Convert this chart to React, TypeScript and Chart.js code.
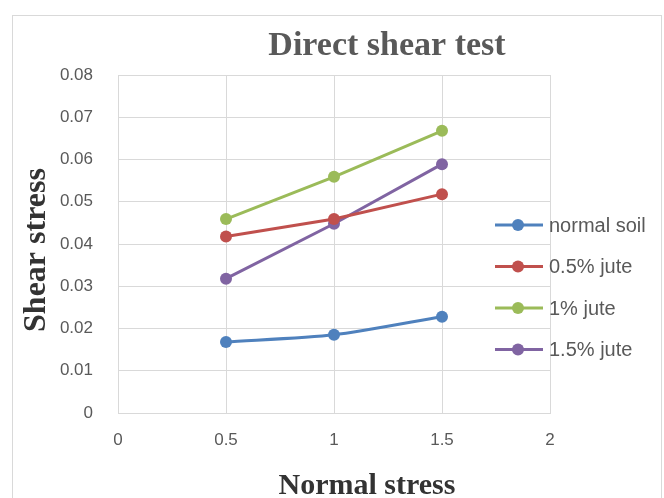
import React, { useEffect, useRef } from "react";
import { Chart, registerables } from "chart.js";

Chart.register(...registerables);

const seriesNames = ["normal soil", "0.5% jute", "1% jute", "1.5% jute"];
const normalStress = [0.5, 1, 1.5];
const normalSoil = [0.0168, 0.0185, 0.0228];
const jute05 = [0.0418, 0.0459, 0.0518];
const jute1 = [0.0459, 0.0559, 0.0668];
const jute15 = [0.0318, 0.0448, 0.0589];
const seriesColors = ["#4F81BD", "#C0504D", "#9BBB59", "#8064A2"];
const xTickLabels = ["0", "0.5", "1", "1.5", "2"];
const yTickLabels = ["0", "0.01", "0.02", "0.03", "0.04", "0.05", "0.06", "0.07", "0.08"];
const chartTitle = "Direct shear test";
const xTitle = "Normal stress";
const yTitle = "Shear stress";

const frameAndTitle = {
  id: "frameAndTitle",
  beforeDraw(chart: any) {
    const ctx = chart.ctx;
    ctx.save();
    ctx.fillStyle = "#ffffff";
    ctx.fillRect(0, 0, chart.width, chart.height);
    ctx.strokeStyle = "#d9d9d9";
    ctx.lineWidth = 1;
    ctx.strokeRect(12.5, 15.5, 649, 500);
    ctx.restore();
  },
  afterDraw(chart: any) {
    const ctx = chart.ctx;
    const area = chart.chartArea;
    ctx.save();
    // chart title
    ctx.font = "bold 34px 'Liberation Serif'";
    ctx.fillStyle = "#595959";
    ctx.textAlign = "center";
    ctx.textBaseline = "alphabetic";
    ctx.fillText(chartTitle, (area.left + chart.width - 8) / 2, 55);
    // x-axis title
    ctx.font = "bold 30px 'Liberation Serif'";
    ctx.fillStyle = "#333333";
    ctx.fillText(xTitle, (area.left + chart.width) / 2 - 24, 494);
    // y-axis title
    ctx.save();
    ctx.translate(45, (area.top + area.bottom) / 2 + 6);
    ctx.rotate(-Math.PI / 2);
    ctx.font = "bold 32px 'Liberation Serif'";
    ctx.fillText(yTitle, 0, 0);
    ctx.restore();
    // legend
    const x0 = area.right - 55;
    const y0 = area.top + 150;
    chart.data.datasets.forEach((ds: any, i: number) => {
      const y = y0 + i * 41.5;
      ctx.strokeStyle = ds.borderColor;
      ctx.lineWidth = 3;
      ctx.beginPath();
      ctx.moveTo(x0, y);
      ctx.lineTo(x0 + 48, y);
      ctx.stroke();
      ctx.fillStyle = ds.backgroundColor;
      ctx.beginPath();
      ctx.arc(x0 + 23, y, 6, 0, Math.PI * 2);
      ctx.fill();
      ctx.fillStyle = "#595959";
      ctx.font = "20px 'Liberation Sans'";
      ctx.textAlign = "left";
      ctx.textBaseline = "middle";
      ctx.fillText(ds.label, x0 + 54, y + 1);
    });
    ctx.restore();
  },
};

export default function App() {
  const ref = useRef<HTMLCanvasElement>(null);
  useEffect(() => {
    document.body.style.margin = "0";
    const allSeries = [normalSoil, jute05, jute1, jute15];
    const chart = new Chart(ref.current as HTMLCanvasElement, {
      type: "line",
      data: {
        datasets: allSeries.map((vals, i) => ({
          label: seriesNames[i],
          data: normalStress.map((x, j) => ({ x, y: vals[j] })),
          borderColor: seriesColors[i],
          backgroundColor: seriesColors[i],
          borderWidth: 3,
          pointRadius: 6,
          pointHoverRadius: 6,
          pointBorderWidth: 0,
          tension: i === 0 ? 0.25 : 0,
          fill: false,
        })),
      },
      plugins: [frameAndTitle],
      options: {
        animation: false,
        responsive: false,
        layout: { padding: { top: 75, right: 114, bottom: 0, left: 0 } },
        plugins: {
          legend: { display: false },
          title: { display: false },
          tooltip: { enabled: false },
        },
        scales: {
          x: {
            type: "linear",
            min: 0,
            max: 2,
            ticks: {
              stepSize: 0.5,
              padding: 17,
              color: "#595959",
              font: { family: "'Liberation Sans'", size: 17 },
              callback: (_v: any, i: number) => xTickLabels[i],
            },
            grid: { color: "#d9d9d9", lineWidth: 1, drawTicks: false },
            border: { color: "#d9d9d9" },
            title: { display: false },
            afterFit: (s: any) => {
              s.height = 85;
            },
          },
          y: {
            type: "linear",
            min: 0,
            max: 0.08,
            ticks: {
              stepSize: 0.01,
              padding: 25,
              color: "#595959",
              font: { family: "'Liberation Sans'", size: 17 },
              callback: (_v: any, i: number) => yTickLabels[i],
            },
            grid: { color: "#d9d9d9", lineWidth: 1, drawTicks: false },
            border: { color: "#d9d9d9" },
            title: { display: false },
            afterFit: (s: any) => {
              s.width = 118;
            },
          },
        },
      },
    } as any);
    return () => chart.destroy();
  }, []);
  return (
    <div style={{ width: 664, height: 498 }}>
      <canvas ref={ref} width={664} height={498} style={{ display: "block", width: 664, height: 498 }} />
    </div>
  );
}
